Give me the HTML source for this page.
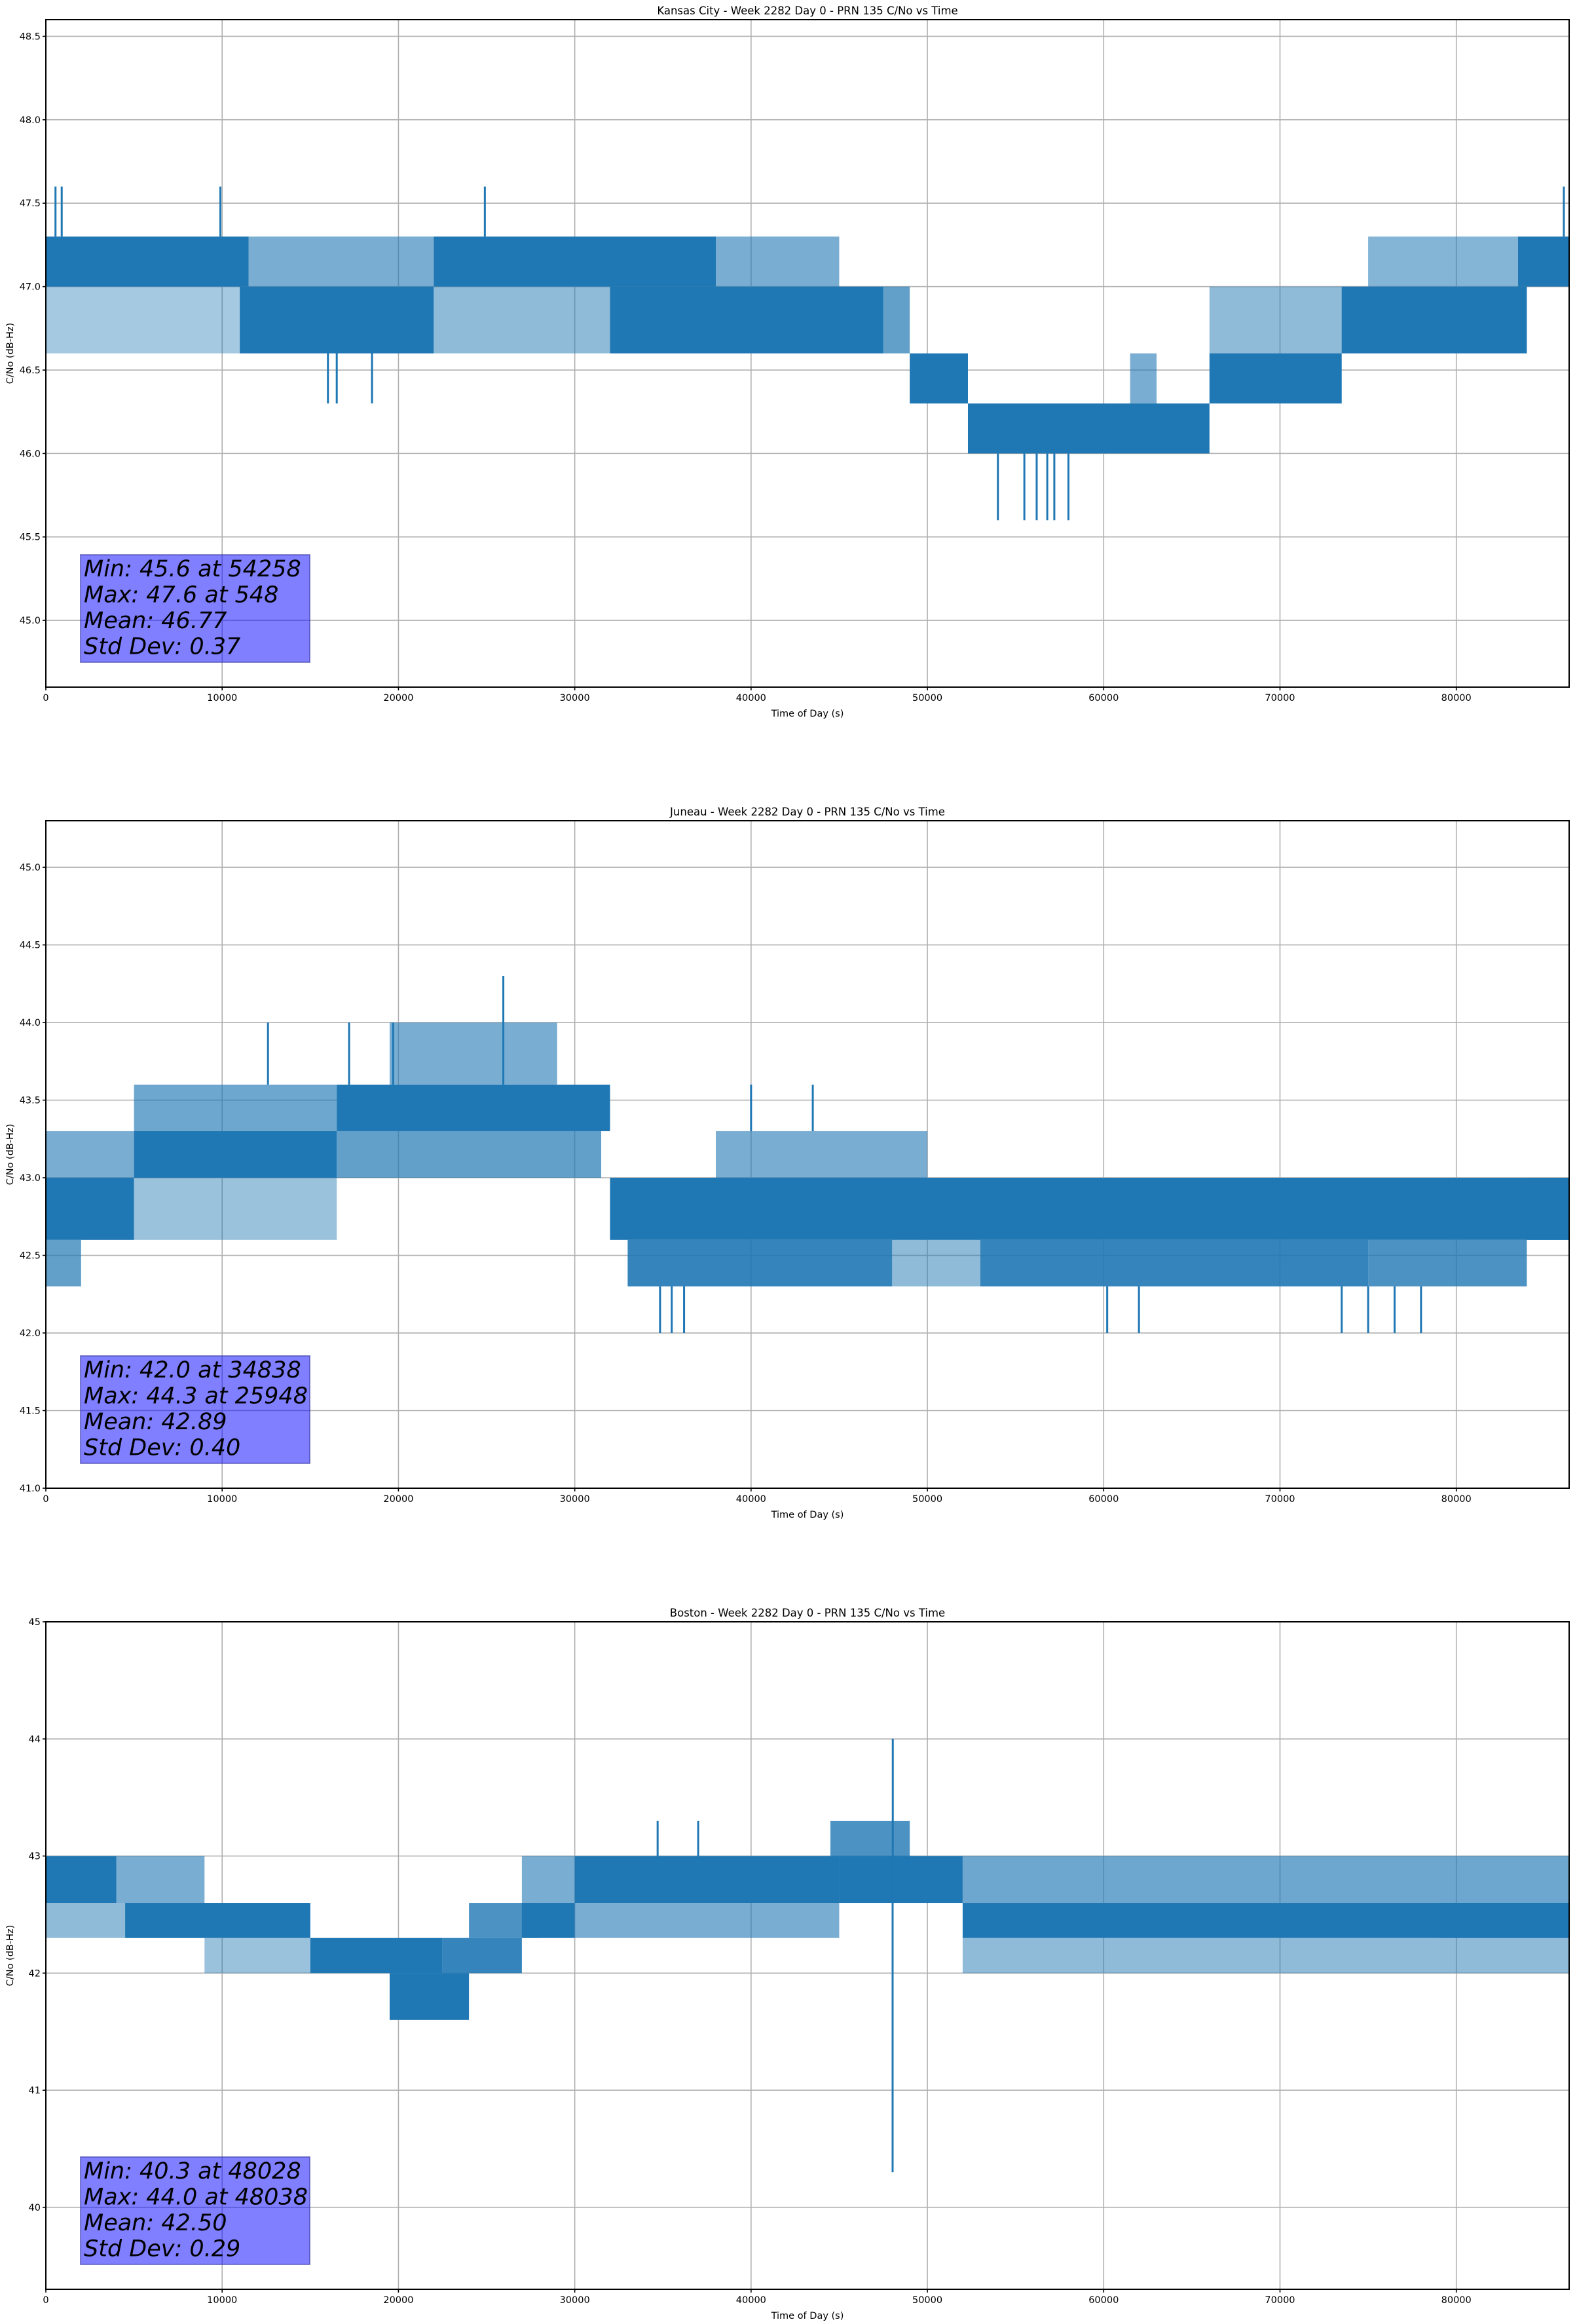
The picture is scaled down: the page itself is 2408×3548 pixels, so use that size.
<!DOCTYPE html>
<html>
<head>
<meta charset="utf-8">
<style>
html,body{margin:0;padding:0;background:#fff;}
svg{display:block;font-family:"DejaVu Sans","Liberation Sans",sans-serif;}
</style>
</head>
<body>
<svg id="fig" width="2408" height="3548" viewBox="0 0 2408 3548" xmlns="http://www.w3.org/2000/svg"></svg>
<script>
// ---------- Kansas City ----------
const kcTitle = "Kansas City - Week 2282 Day 0 - PRN 135 C/No vs Time";
const kcYMin = 44.6, kcYMax = 48.6;
const kcYTicks = [45.0, 45.5, 46.0, 46.5, 47.0, 47.5, 48.0, 48.5];
const kcBandStart = [0, 11500, 22000, 38000, 0, 11000, 22000, 32000, 47500, 49000, 52300, 61500, 66000, 66000, 73500, 75000, 83500];
const kcBandEnd   = [11500, 22000, 38000, 45000, 11000, 22000, 32000, 47500, 49000, 52300, 66000, 63000, 73500, 74000, 84000, 83500, 86400];
const kcBandLow   = [47.0, 47.0, 47.0, 47.0, 46.6, 46.6, 46.6, 46.6, 46.6, 46.3, 46.0, 46.3, 46.3, 46.6, 46.6, 47.0, 47.0];
const kcBandHigh  = [47.3, 47.3, 47.3, 47.3, 47.0, 47.0, 47.0, 47.0, 47.0, 46.6, 46.3, 46.6, 46.6, 47.0, 47.0, 47.3, 47.3];
const kcBandDensity = [1, 0.3, 0.9, 0.3, 0.1, 0.85, 0.2, 0.9, 0.4, 1, 0.9, 0.3, 0.9, 0.2, 0.9, 0.25, 1];
const kcSpikeTime = [548, 900, 9900, 24900, 86100, 54000, 55500, 56200, 56800, 57200, 58000, 16000, 16500, 18500];
const kcSpikeLow  = [47.3, 47.3, 47.3, 47.3, 47.3, 45.6, 45.6, 45.6, 45.6, 45.6, 45.6, 46.3, 46.3, 46.3];
const kcSpikeHigh = [47.6, 47.6, 47.6, 47.6, 47.6, 46.0, 46.0, 46.0, 46.0, 46.0, 46.0, 46.6, 46.6, 46.6];
const kcStats = ["Min: 45.6 at 54258", "Max: 47.6 at 548", "Mean: 46.77", "Std Dev: 0.37"];

// ---------- Juneau ----------
const juTitle = "Juneau - Week 2282 Day 0 - PRN 135 C/No vs Time";
const juYMin = 41.0, juYMax = 45.3;
const juYTicks = [41.0, 41.5, 42.0, 42.5, 43.0, 43.5, 44.0, 44.5, 45.0];
const juBandStart = [0, 0, 0, 5000, 5000, 5000, 16500, 16500, 19500, 32000, 33000, 48000, 53000, 75000, 38000, 84000];
const juBandEnd   = [5000, 2000, 5000, 16500, 16500, 16500, 32000, 31500, 29000, 86400, 48000, 53000, 75000, 84000, 50000, 86400];
const juBandLow   = [42.6, 42.3, 43.0, 43.0, 42.6, 43.3, 43.3, 43.0, 43.6, 42.6, 42.3, 42.3, 42.3, 42.3, 43.0, 42.6];
const juBandHigh  = [43.0, 42.6, 43.3, 43.3, 43.0, 43.6, 43.6, 43.3, 44.0, 43.0, 42.6, 42.6, 42.6, 42.6, 43.3, 43.0];
const juBandDensity = [0.8, 0.4, 0.3, 0.95, 0.15, 0.35, 0.95, 0.4, 0.3, 0.9, 0.6, 0.2, 0.6, 0.5, 0.3, 1];
const juSpikeTime = [12600, 17200, 19700, 25948, 40000, 43500, 34838, 35500, 36200, 60200, 62000, 73500, 75000, 76500, 78000];
const juSpikeLow  = [43.6, 43.6, 43.6, 43.6, 43.3, 43.3, 42.0, 42.0, 42.0, 42.0, 42.0, 42.0, 42.0, 42.0, 42.0];
const juSpikeHigh = [44.0, 44.0, 44.0, 44.3, 43.6, 43.6, 42.3, 42.3, 42.3, 42.3, 42.3, 42.3, 42.3, 42.3, 42.3];
const juStats = ["Min: 42.0 at 34838", "Max: 44.3 at 25948", "Mean: 42.89", "Std Dev: 0.40"];

// ---------- Boston ----------
const boTitle = "Boston - Week 2282 Day 0 - PRN 135 C/No vs Time";
const boYMin = 39.3, boYMax = 45.0;
const boYTicks = [40, 41, 42, 43, 44, 45];
const boBandStart = [0, 4000, 0, 4500, 9000, 15000, 19500, 22500, 24000, 27000, 27000, 30000, 30000, 44500, 45000, 52000, 52000, 52000, 79000];
const boBandEnd   = [4000, 9000, 9000, 15000, 15000, 22500, 24000, 27000, 28000, 30000, 30000, 45000, 45000, 49000, 52000, 86400, 86400, 86400, 86400];
const boBandLow   = [42.6, 42.6, 42.3, 42.3, 42.0, 42.0, 41.6, 42.0, 42.3, 42.3, 42.6, 42.6, 42.3, 43.0, 42.6, 42.3, 42.6, 42.0, 42.3];
const boBandHigh  = [43.0, 43.0, 42.6, 42.6, 42.3, 42.3, 42.0, 42.3, 42.6, 42.6, 43.0, 43.0, 42.6, 43.3, 43.0, 42.6, 43.0, 42.3, 42.6];
const boBandDensity = [1, 0.3, 0.2, 0.9, 0.15, 0.9, 0.9, 0.6, 0.5, 0.9, 0.3, 0.95, 0.3, 0.5, 0.9, 0.85, 0.35, 0.2, 1];
const boSpikeTime = [48028, 48038, 34700, 37000];
const boSpikeLow  = [40.3, 42.6, 43.0, 43.0];
const boSpikeHigh = [42.6, 44.0, 43.3, 43.3];
const boStats = ["Min: 40.3 at 48028", "Max: 44.0 at 48038", "Mean: 42.50", "Std Dev: 0.29"];

const xTicks = [0, 10000, 20000, 30000, 40000, 50000, 60000, 70000, 80000];
const xMin = 0, xMax = 86400;

const NS = "http://www.w3.org/2000/svg";
const svg = document.getElementById("fig");
const LEFT = 70, RIGHT = 2396, PH = 1019;
const BLUE = "#1f77b4";

function mk(tag, attrs, parent) {
  const e = document.createElementNS(NS, tag);
  for (const k in attrs) e.setAttribute(k, attrs[k]);
  parent.appendChild(e);
  return e;
}

function drawChart(key, top, title, yMin, yMax, yTicks, yDec, bS, bE, bL, bH, bD, sT, sL, sH, stats) {
  const bottom = top + PH;
  const g = mk("g", {}, svg);
  
  
  const xs = v => LEFT + (v - xMin) / (xMax - xMin) * (RIGHT - LEFT);
  const ys = v => bottom - (v - yMin) / (yMax - yMin) * PH;

  const grid = mk("g", {stroke: "#b0b0b0", "stroke-width": 1.6}, g);
  
  
  xTicks.forEach(t => mk("line", {x1: xs(t), x2: xs(t), y1: top, y2: bottom}, grid));
  yTicks.forEach(t => mk("line", {x1: LEFT, x2: RIGHT, y1: ys(t), y2: ys(t)}, grid));

  const series = mk("g", {fill: BLUE}, g);
  
  
  for (let i = 0; i < bS.length; i++) {
    const op = Math.min(1, 0.3 + bD[i]);
    const r = mk("rect", {x: xs(bS[i]), y: ys(bH[i]), width: Math.max(1, xs(bE[i]) - xs(bS[i])), height: ys(bL[i]) - ys(bH[i]), "fill-opacity": op}, series);
    
    
  }
  for (let i = 0; i < sT.length; i++) {
    const l = mk("line", {x1: xs(sT[i]), x2: xs(sT[i]), y1: ys(sH[i]), y2: ys(sL[i]), stroke: BLUE, "stroke-width": 3}, series);
    
    
  }

  const frame = mk("rect", {x: LEFT, y: top, width: RIGHT - LEFT, height: PH, fill: "none", stroke: "#000", "stroke-width": 2}, g);
  
  

  const tk = mk("g", {"font-size": 14.5, fill: "#000"}, g);
  
  
  xTicks.forEach(t => {
    mk("line", {x1: xs(t), x2: xs(t), y1: bottom, y2: bottom + 5, stroke: "#000", "stroke-width": 1.6}, tk);
    const tx = mk("text", {x: xs(t), y: bottom + 21, "text-anchor": "middle"}, tk);
    tx.textContent = String(t);
    
    
  });
  yTicks.forEach(t => {
    mk("line", {x1: LEFT - 5, x2: LEFT, y1: ys(t), y2: ys(t), stroke: "#000", "stroke-width": 1.6}, tk);
    const tx = mk("text", {x: LEFT - 8, y: ys(t) + 5, "text-anchor": "end"}, tk);
    tx.textContent = t.toFixed(yDec);
    
    
  });

  const ttl = mk("text", {x: (LEFT + RIGHT) / 2, y: top - 8, "text-anchor": "middle", "font-size": 16.5}, g);
  ttl.textContent = title;
  
  
  const xl = mk("text", {x: (LEFT + RIGHT) / 2, y: bottom + 45, "text-anchor": "middle", "font-size": 14.5}, g);
  xl.textContent = "Time of Day (s)";
  
  
  const yl = mk("text", {x: 0, y: 0, "text-anchor": "middle", "font-size": 14.5, transform: "translate(20," + (top + PH / 2) + ") rotate(-90)"}, g);
  yl.textContent = "C/No (dB-Hz)";
  
  

  const bx = mk("g", {}, g);
  
  
  const boxBottom = bottom - 38, boxTop = boxBottom - 164;
  mk("rect", {x: 123, y: boxTop, width: 350, height: 164, fill: "#0000ff", "fill-opacity": 0.5, stroke: "#3c3ca8", "stroke-opacity": 0.6, "stroke-width": 2}, bx);
  stats.forEach((s, i) => {
    const t = mk("text", {x: 128, y: boxTop + 33 + i * 39.5, "font-size": 35, "font-style": "italic", fill: "#000"}, bx);
    t.textContent = s;
    
    
  });
}

drawChart("kansas-city", 30, kcTitle, kcYMin, kcYMax, kcYTicks, 1, kcBandStart, kcBandEnd, kcBandLow, kcBandHigh, kcBandDensity, kcSpikeTime, kcSpikeLow, kcSpikeHigh, kcStats);
drawChart("juneau", 1253, juTitle, juYMin, juYMax, juYTicks, 1, juBandStart, juBandEnd, juBandLow, juBandHigh, juBandDensity, juSpikeTime, juSpikeLow, juSpikeHigh, juStats);
drawChart("boston", 2476, boTitle, boYMin, boYMax, boYTicks, 0, boBandStart, boBandEnd, boBandLow, boBandHigh, boBandDensity, boSpikeTime, boSpikeLow, boSpikeHigh, boStats);
</script>
</body>
</html>
